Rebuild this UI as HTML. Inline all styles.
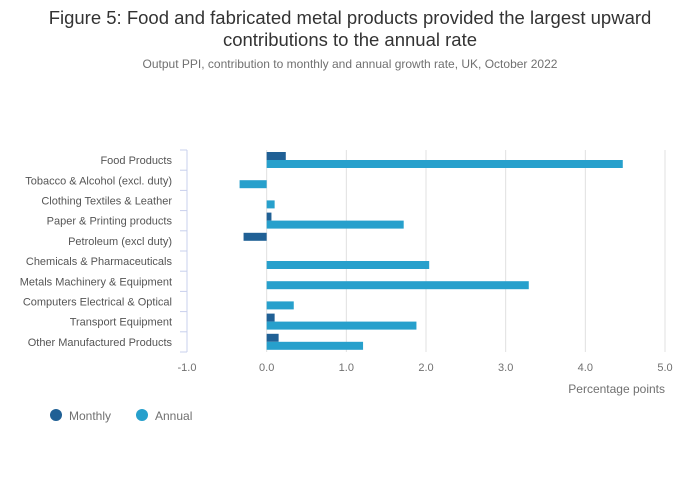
<!DOCTYPE html>
<html><head><meta charset="utf-8"><style>
body{margin:0;background:#fff;font-family:"Liberation Sans",sans-serif;}
#wrap{position:relative;width:700px;height:502px;overflow:hidden;}
.t{position:absolute;left:0;width:700px;text-align:center;}
</style></head><body>
<div id="wrap">
<div class="t" style="top:7px;font-size:18.5px;line-height:22px;color:#333;">Figure 5: Food and fabricated metal products provided the largest upward<br>contributions to the annual rate</div>
<div class="t" style="top:57px;font-size:12px;color:#707070;">Output PPI, contribution to monthly and annual growth rate, UK, October 2022</div>
<svg id="chart" width="700" height="502" style="position:absolute;left:0;top:0"></svg>
</div>
<script>
const categories=["Food Products","Tobacco & Alcohol (excl. duty)","Clothing Textiles & Leather","Paper & Printing products","Petroleum (excl duty)","Chemicals & Pharmaceuticals","Metals Machinery & Equipment","Computers Electrical & Optical","Transport Equipment","Other Manufactured Products"];
const monthly=[0.24,0,0,0.06,-0.29,0,0,0,0.10,0.15];
const annual=[4.47,-0.34,0.10,1.72,0,2.04,3.29,0.34,1.88,1.21];
const ticks=[-1,0,1,2,3,4,5];
const tickLabels=["-1.0","0.0","1.0","2.0","3.0","4.0","5.0"];
const NS="http://www.w3.org/2000/svg";
const svg=document.getElementById('chart');
const x0=187,x1=665,vmin=-1,vmax=5,plotTop=150,plotBot=352;
const xs=v=>x0+(v-vmin)/(vmax-vmin)*(x1-x0);
const band=(plotBot-plotTop)/categories.length;
function mk(t,a){const e=document.createElementNS(NS,t);for(const k in a)e.setAttribute(k,a[k]);svg.appendChild(e);return e;}
ticks.forEach((t,i)=>{
 if(t!==vmin){const g=mk('line',{x1:xs(t),x2:xs(t),y1:plotTop,y2:plotBot,stroke:'#e0e0e0','stroke-width':1});
 
 }
 const l=mk('text',{x:xs(t),y:371,'text-anchor':'middle','font-size':11,fill:'#707070'});
 l.textContent=tickLabels[i];
 
 
});
const ax=mk('line',{x1:x0,x2:x0,y1:plotTop,y2:plotBot,stroke:'#c8d0ec','stroke-width':1});


for(let i=0;i<=categories.length;i++){
 const tk=mk('line',{x1:x0-7,x2:x0,y1:plotTop+i*band,y2:plotTop+i*band,stroke:'#c8d0ec','stroke-width':1});
 
 
}
categories.forEach((c,i)=>{
 const y=plotTop+i*band;
 const lb=mk('text',{x:172,y:y+band/2+4,'text-anchor':'end','font-size':11,fill:'#555'});
 lb.textContent=c;
 
 
 const m=monthly[i],a=annual[i];
 const bm=mk('rect',{x:Math.min(xs(0),xs(m)),y:y+2,width:Math.abs(xs(m)-xs(0)),height:8,fill:'#206095'});
 
 
 const ba=mk('rect',{x:Math.min(xs(0),xs(a)),y:y+10,width:Math.abs(xs(a)-xs(0)),height:8,fill:'#27a0cc'});
 
 
});
const xt=mk('text',{x:665,y:393,'text-anchor':'end','font-size':12,fill:'#707070'});
xt.textContent="Percentage points";


[["Monthly","#206095",56],["Annual","#27a0cc",142]].forEach(([n,col,cx])=>{
 const c=mk('circle',{cx:cx,cy:415,r:6,fill:col});
 
 
 const t=mk('text',{x:cx+13,y:420,'font-size':12,fill:'#707070'});
 t.textContent=n;
 
 
});
</script>
</body></html>
